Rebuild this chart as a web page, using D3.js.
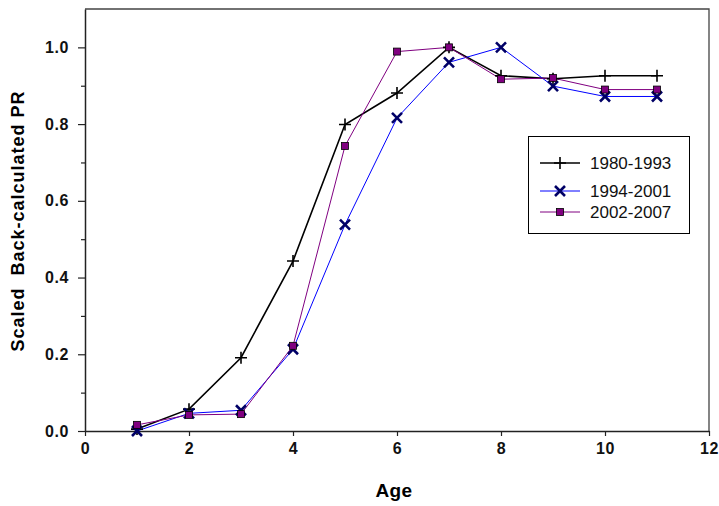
<!DOCTYPE html>
<html lang="en">
<head>
<meta charset="utf-8">
<title>Scaled Back-calculated PR</title>
<script src="https://cdn.jsdelivr.net/npm/d3@7"></script>
<style>
  body { margin: 0; background: #fff; }
  text { font-family: "Liberation Sans", Arial, sans-serif; }
</style>
</head>
<body>
<script type="text/javascript">

var width = 719;
var height = 506;

// data
var ages = [1, 2, 3, 4, 5, 6, 7, 8, 9, 10, 11];
var pr1980 = [0.005, 0.057, 0.191, 0.443, 0.799, 0.881, 1.0, 0.926, 0.918, 0.926, 0.926];
var pr1994 = [0.0, 0.046, 0.054, 0.213, 0.538, 0.816, 0.961, 1.0, 0.899, 0.872, 0.872];
var pr2002 = [0.016, 0.042, 0.044, 0.222, 0.743, 0.989, 1.0, 0.917, 0.92, 0.89, 0.89];
var seriesNames = ["1980-1993", "1994-2001", "2002-2007"];
var xTicks = [0, 2, 4, 6, 8, 10, 12];
var yTicks = [0.0, 0.2, 0.4, 0.6, 0.8, 1.0];
var yMinorTicks = [0.1, 0.3, 0.5, 0.7, 0.9];

var plotLeft = 85, plotRight = 709, plotTop = 9, plotBottom = 431;

var x = d3.scaleLinear().domain([0, 12]).range([plotLeft, plotRight]);
var y = d3.scaleLinear().domain([0, 1.1]).range([plotBottom, plotTop]);

var svg = d3.select("body").append("svg")
            .attr("width", width)
            .attr("height", height);

// frame (top and right)
svg.append("path")
   .attr("d", "M" + plotLeft + "," + plotTop + "H" + plotRight + "V" + plotBottom)
   .attr("fill", "none")
   .attr("stroke", "#444")
   .attr("stroke-width", 1.3);

// y axis
svg.append("g")
   .attr("transform", "translate(" + plotLeft + ",0)")
   .call(d3.axisLeft(y).tickValues(yTicks).tickSize(7).tickPadding(9).tickSizeOuter(0).tickFormat(d3.format(".1f")));
svg.append("g")
   .attr("class", "minor")
   .attr("transform", "translate(" + plotLeft + ",0)")
   .call(d3.axisLeft(y).tickValues(yMinorTicks).tickSize(4).tickFormat(""))
   .select(".domain").remove();

// x axis
svg.append("g")
   .attr("transform", "translate(0," + plotBottom + ")")
   .call(d3.axisBottom(x).tickValues(xTicks).tickSize(5).tickPadding(7).tickSizeOuter(0));

svg.selectAll(".domain").attr("stroke", "#222").attr("stroke-width", 1.5);
svg.selectAll(".tick line").attr("stroke", "#222").attr("stroke-width", 1.2);
svg.selectAll(".tick text")
   .attr("font-family", "'Liberation Sans', Arial, sans-serif")
   .attr("font-size", 16)
   .attr("font-weight", "bold")
   .attr("letter-spacing", 0.6)
   .attr("fill", "#111");

// axis titles
svg.append("text")
   .attr("x", 394)
   .attr("y", 497)
   .attr("text-anchor", "middle")
   .attr("font-size", 19)
   .attr("font-weight", "bold")
   .attr("letter-spacing", 0.4)
   .text("Age");

svg.append("text")
   .attr("transform", "translate(24,221) rotate(-90)")
   .attr("text-anchor", "middle")
   .attr("font-size", 18)
   .attr("font-weight", "bold")
   .attr("letter-spacing", 1)
   .style("white-space", "pre")
   .text("Scaled  Back-calculated PR");

var series = [
  {name: seriesNames[0], values: pr1980, color: "#000000", width: 1.6, marker: "plus"},
  {name: seriesNames[1], values: pr1994, color: "#0000ff", width: 1, marker: "cross"},
  {name: seriesNames[2], values: pr2002, color: "#800080", width: 1, marker: "square"}
];

var line = d3.line()
  .x(function(d, i) { return x(ages[i]); })
  .y(function(d) { return y(d); });

function drawMarker(g, type) {
  if (type == "plus") {
    g.append("path")
     .attr("d", "M-6,0H6M0,-6V6")
     .attr("stroke", "#000")
     .attr("stroke-width", 1.6);
  } else if (type == "cross") {
    g.append("path")
     .attr("d", "M-5,-5L5,5M-5,5L5,-5")
     .attr("stroke", "#000066")
     .attr("stroke-width", 2.6);
  } else {
    g.append("rect")
     .attr("x", -3.5).attr("y", -3.5)
     .attr("width", 7).attr("height", 7)
     .attr("fill", "#800080")
     .attr("stroke", "#000")
     .attr("stroke-width", 0.8);
  }
}

series.forEach(function(s) {
  svg.append("path")
     .datum(s.values)
     .attr("d", line)
     .attr("fill", "none")
     .attr("stroke", s.color)
     .attr("stroke-width", s.width);
});

series.forEach(function(s) {
  svg.append("g")
     .selectAll("g")
     .data(s.values)
     .enter()
     .append("g")
     .attr("transform", function(d, i) { return "translate(" + x(ages[i]) + "," + y(d) + ")"; })
     .each(function() { drawMarker(d3.select(this), s.marker); });
});

// legend
var legend = svg.append("g");
legend.append("rect")
   .attr("x", 528.5).attr("y", 136.5)
   .attr("width", 161).attr("height", 97)
   .attr("fill", "#fff")
   .attr("stroke", "#000")
   .attr("stroke-width", 1);

var legendY = [163, 191, 212];
series.forEach(function(s, i) {
  var row = legend.append("g").attr("transform", "translate(0," + legendY[i] + ")");
  row.append("line")
     .attr("x1", 540).attr("x2", 580)
     .attr("stroke", s.color)
     .attr("stroke-width", s.width);
  var m = row.append("g").attr("transform", "translate(560,0)");
  drawMarker(m, s.marker);
  row.append("text")
     .attr("x", 590)
     .attr("y", 6)
     .attr("font-size", 17)
     .attr("fill", "#111")
     .text(s.name);
});

</script>
</body>
</html>
